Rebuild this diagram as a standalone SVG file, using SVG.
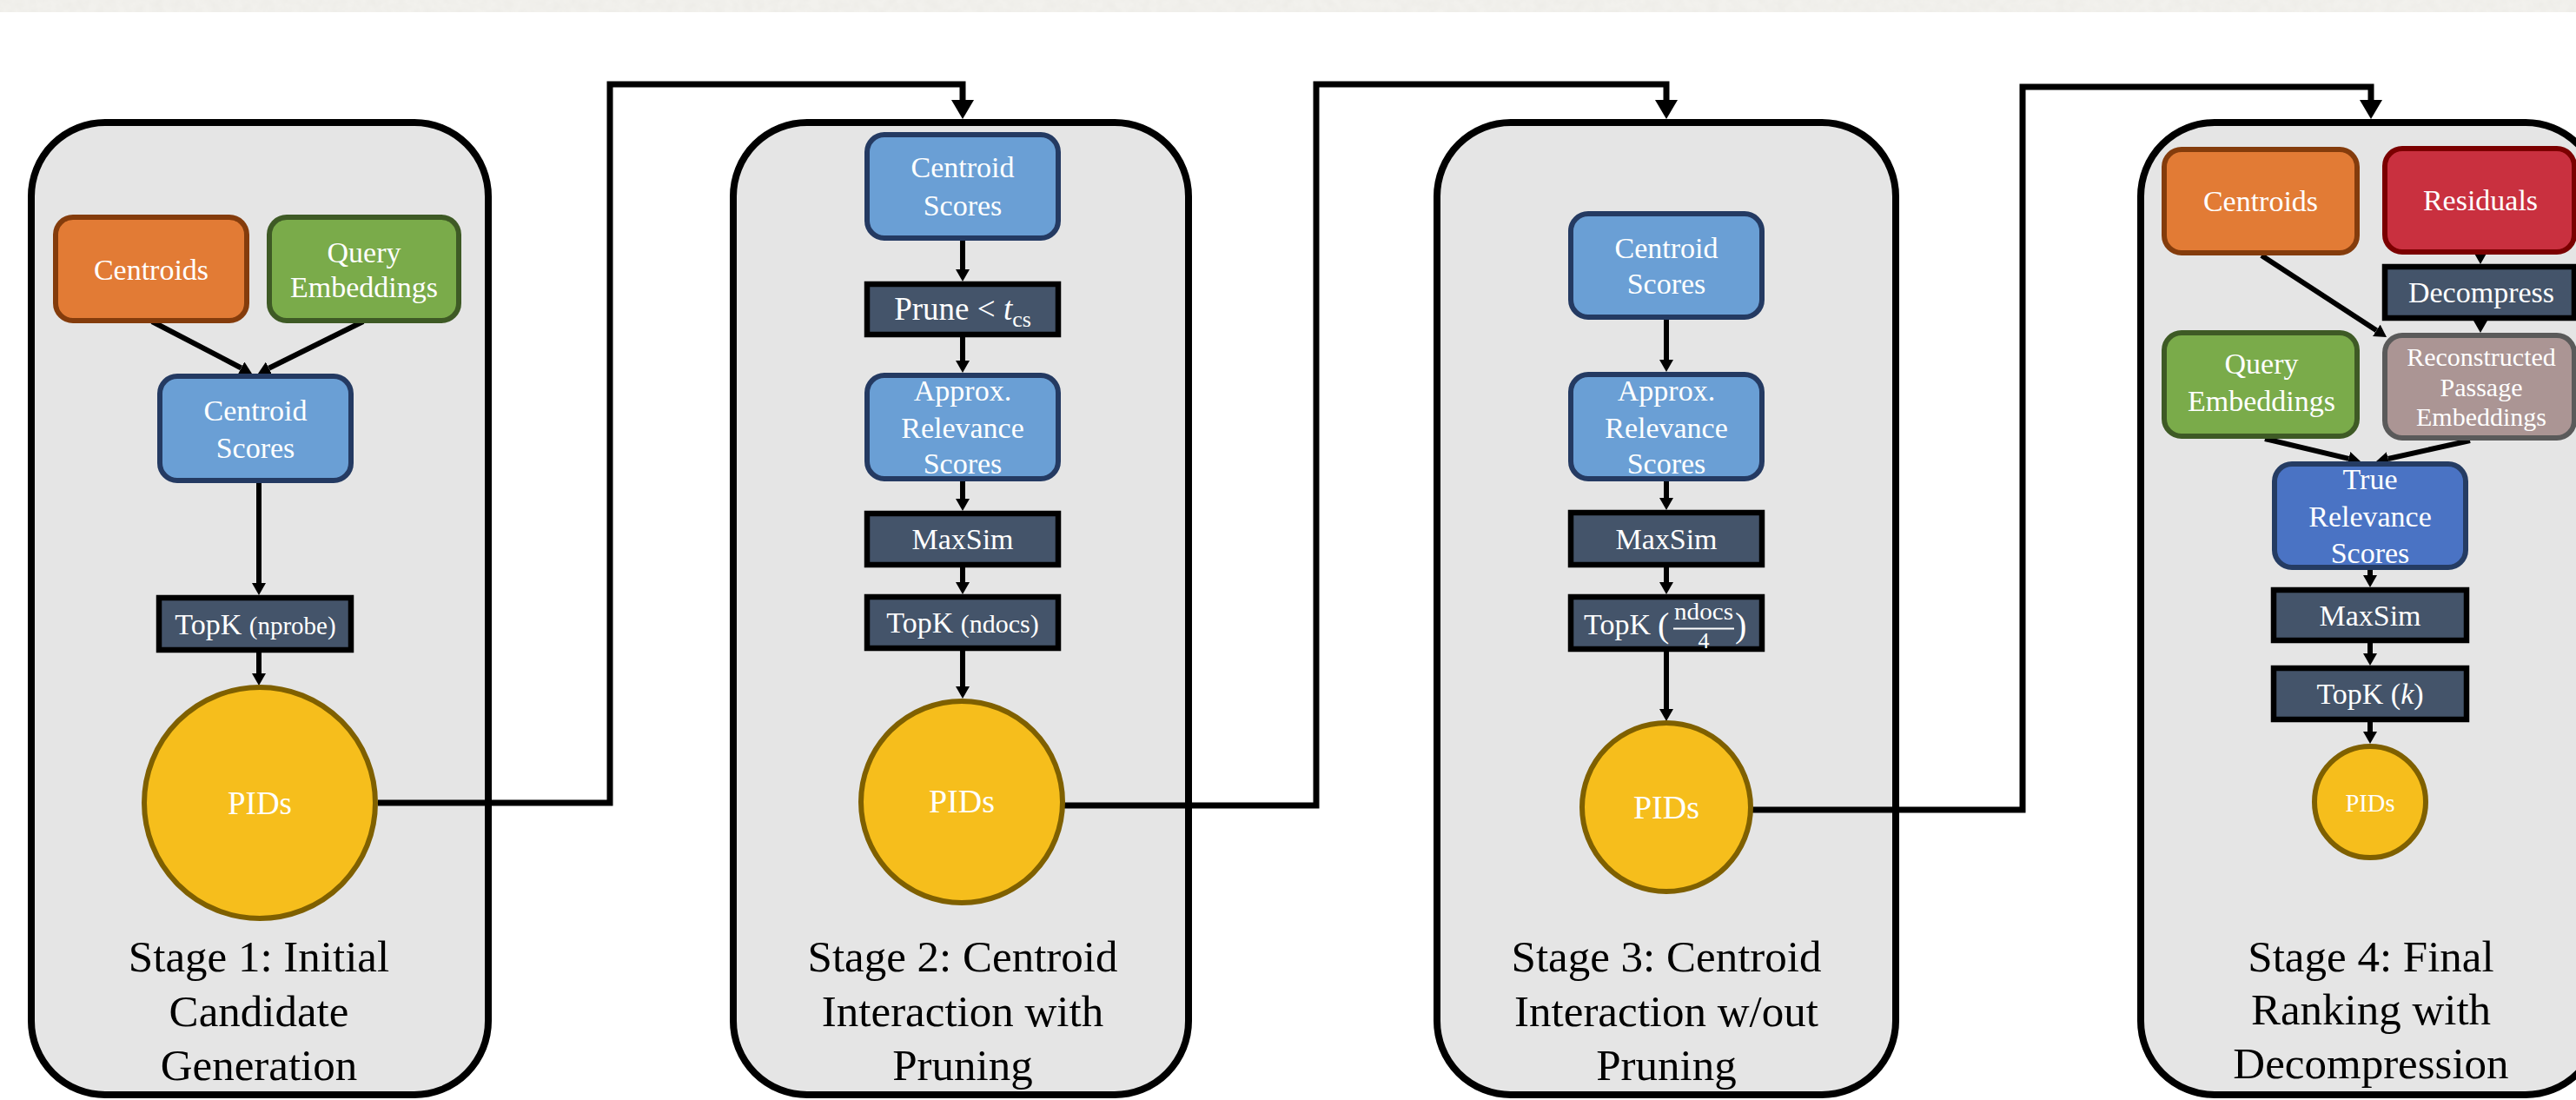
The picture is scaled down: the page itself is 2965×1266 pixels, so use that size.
<svg xmlns="http://www.w3.org/2000/svg" width="2965" height="1266" viewBox="0 0 2965 1266">
  <defs>
    <style>
      text { font-family: "Liberation Serif", "Times New Roman", serif; }
      .panel { fill: #e5e5e5; stroke: #000; stroke-width: 8; }
      .lbl { fill: #fff; font-size: 34px; text-anchor: middle; }
      .title { fill: #000; font-size: 51px; text-anchor: middle; }
      .orange { fill: #e27b35; stroke: #843c0c; stroke-width: 6; }
      .green { fill: #7aab4a; stroke: #3e5a25; stroke-width: 6; }
      .blue { fill: #6a9fd5; stroke: #243a62; stroke-width: 6; }
      .tblue { fill: #4a73c4; stroke: #253c63; stroke-width: 6; }
      .red { fill: #c9303f; stroke: #7b0000; stroke-width: 6; }
      .mauve { fill: #ab9594; stroke: #5a5a5a; stroke-width: 6; }
      .op { fill: #44546a; stroke: #000; stroke-width: 6.5; }
      .pid { fill: #f6be1c; stroke: #7f6000; stroke-width: 6; }
      .flow { fill: none; stroke: #000; stroke-width: 7; stroke-linejoin: miter; marker-end: url(#bighead); }
      .step { fill: none; stroke: #000; stroke-width: 6; marker-end: url(#head); }
    </style>
    <marker id="head" viewBox="0 0 14 16" refX="0" refY="8" markerWidth="14" markerHeight="16" markerUnits="userSpaceOnUse" orient="auto">
      <path d="M0,0 L14,8 L0,16 z" fill="#000"/>
    </marker>
    <marker id="bighead" viewBox="0 0 22 26" refX="0" refY="13" markerWidth="22" markerHeight="26" markerUnits="userSpaceOnUse" orient="auto">
      <path d="M0,0 L22,13 L0,26 z" fill="#000"/>
    </marker>
    <filter id="grain" x="0" y="0" width="100%" height="100%">
      <feTurbulence type="fractalNoise" baseFrequency="0.09" numOctaves="3" seed="7"/>
      <feColorMatrix type="matrix" values="0 0 0 0 0.80  0 0 0 0 0.79  0 0 0 0 0.75  0.7 0 0 0 -0.2"/>
    </filter>
  </defs>

  <!-- page background with a paper-textured strip along the top -->
  <rect x="0" y="0" width="2965" height="1266" fill="#fff"/>
  <rect x="0" y="0" width="2965" height="14" fill="#f2f1ed"/>
  <rect x="0" y="0" width="2965" height="14" filter="url(#grain)"/>

  <!-- stage panels -->
  <g id="stage1">
    <rect class="panel" x="36" y="141" width="526" height="1119" rx="85" ry="85"/>
    <text class="title" x="298" y="1118">Stage 1: Initial</text>
    <text class="title" x="298" y="1181">Candidate</text>
    <text class="title" x="298" y="1243">Generation</text>
  </g>
  <g id="stage2">
    <rect class="panel" x="844" y="141" width="524" height="1119" rx="85" ry="85"/>
    <text class="title" x="1108" y="1118">Stage 2: Centroid</text>
    <text class="title" x="1108" y="1181">Interaction with</text>
    <text class="title" x="1108" y="1243">Pruning</text>
  </g>
  <g id="stage3">
    <rect class="panel" x="1654" y="141" width="528" height="1119" rx="85" ry="85"/>
    <text class="title" x="1918" y="1118">Stage 3: Centroid</text>
    <text class="title" x="1918" y="1181">Interaction w/out</text>
    <text class="title" x="1918" y="1243">Pruning</text>
  </g>
  <g id="stage4">
    <rect class="panel" x="2464" y="141" width="528" height="1119" rx="85" ry="85"/>
    <text class="title" x="2729" y="1118">Stage 4: Final</text>
    <text class="title" x="2729" y="1179">Ranking with</text>
    <text class="title" x="2729" y="1241">Decompression</text>
  </g>

  <!-- connectors -->
  <g id="connectors">
    <path class="flow" d="M435,924 H702 V97 H1108 V115"/>
    <path class="flow" d="M1223,927 H1515 V97 H1918 V115"/>
    <path class="flow" d="M2015,932 H2328 V100 H2729 V115"/>

    <path class="step" d="M175,370 L277.6,423.5"/>
    <path class="step" d="M418,370 L309.5,423.8"/>
    <path class="step" d="M298,556 V671"/>
    <path class="step" d="M298,751 V775"/>

    <path class="step" d="M1108,277 V310"/>
    <path class="step" d="M1108,388 V415"/>
    <path class="step" d="M1108,554 V574"/>
    <path class="step" d="M1108,653 V670"/>
    <path class="step" d="M1108,749 V790"/>

    <path class="step" d="M1918,368 V414"/>
    <path class="step" d="M1918,554 V573"/>
    <path class="step" d="M1918,653 V670"/>
    <path class="step" d="M1918,750 V816"/>

    <path class="step" d="M2855,285 V290"/>
    <path class="step" d="M2855,362 V369"/>
    <path class="step" d="M2603,294 L2735.3,380.3"/>
    <path class="step" d="M2607,505 L2703.4,527.8"/>
    <path class="step" d="M2843,507 L2748.7,528"/>
    <path class="step" d="M2728,650 V662"/>
    <path class="step" d="M2728,736 V752"/>
    <path class="step" d="M2728,826 V842"/>
  </g>

  <!-- stage 1 nodes -->
  <g id="s1-centroids">
    <rect class="orange" x="64" y="250" width="220" height="119" rx="20"/>
    <text class="lbl" x="174" y="322">Centroids</text>
  </g>
  <g id="s1-query">
    <rect class="green" x="310" y="250" width="218" height="119" rx="20"/>
    <text class="lbl" x="419" y="302">Query</text>
    <text class="lbl" x="419" y="342">Embeddings</text>
  </g>
  <g id="s1-centroid-scores">
    <rect class="blue" x="184" y="433" width="220" height="120" rx="20"/>
    <text class="lbl" x="294" y="484">Centroid</text>
    <text class="lbl" x="294" y="527">Scores</text>
  </g>
  <g id="s1-topk">
    <rect class="op" x="183" y="688" width="221" height="60"/>
    <text class="lbl" x="294" y="730">TopK <tspan style="font-size:29px">(nprobe)</tspan></text>
  </g>
  <g id="s1-pids">
    <circle class="pid" cx="299" cy="924" r="133"/>
    <text class="lbl" x="299" y="937" style="font-size:37px">PIDs</text>
  </g>

  <!-- stage 2 nodes -->
  <g id="s2-centroid-scores">
    <rect class="blue" x="998" y="155" width="220" height="119" rx="20"/>
    <text class="lbl" x="1108" y="204">Centroid</text>
    <text class="lbl" x="1108" y="248">Scores</text>
  </g>
  <g id="s2-prune">
    <rect class="op" x="998" y="327" width="220" height="58"/>
    <text class="lbl" x="1108" y="368" style="font-size:37px">Prune &lt; <tspan style="font-style:italic">t</tspan><tspan style="font-size:26px" dy="8">cs</tspan></text>
  </g>
  <g id="s2-approx">
    <rect class="blue" x="998" y="432" width="220" height="119" rx="20"/>
    <text class="lbl" x="1108" y="461">Approx.</text>
    <text class="lbl" x="1108" y="504">Relevance</text>
    <text class="lbl" x="1108" y="545">Scores</text>
  </g>
  <g id="s2-maxsim">
    <rect class="op" x="998" y="591" width="220" height="59"/>
    <text class="lbl" x="1108" y="632">MaxSim</text>
  </g>
  <g id="s2-topk">
    <rect class="op" x="998" y="687" width="220" height="59"/>
    <text class="lbl" x="1108" y="728">TopK <tspan style="font-size:30px">(ndocs)</tspan></text>
  </g>
  <g id="s2-pids">
    <circle class="pid" cx="1107" cy="923" r="116"/>
    <text class="lbl" x="1107" y="935" style="font-size:38px">PIDs</text>
  </g>

  <!-- stage 3 nodes -->
  <g id="s3-centroid-scores">
    <rect class="blue" x="1808" y="246" width="220" height="119" rx="20"/>
    <text class="lbl" x="1918" y="297">Centroid</text>
    <text class="lbl" x="1918" y="338">Scores</text>
  </g>
  <g id="s3-approx">
    <rect class="blue" x="1808" y="431" width="220" height="120" rx="20"/>
    <text class="lbl" x="1918" y="461">Approx.</text>
    <text class="lbl" x="1918" y="504">Relevance</text>
    <text class="lbl" x="1918" y="545">Scores</text>
  </g>
  <g id="s3-maxsim">
    <rect class="op" x="1808" y="590" width="220" height="60"/>
    <text class="lbl" x="1918" y="632">MaxSim</text>
  </g>
  <g id="s3-topk">
    <rect class="op" x="1808" y="687" width="220" height="60"/>
    <text class="lbl" x="1823" y="730" style="text-anchor:start">TopK</text>
    <text class="lbl" x="1908" y="733" style="font-size:40px;text-anchor:start">(</text>
    <text class="lbl" x="1961" y="713" style="font-size:28px" textLength="68" lengthAdjust="spacingAndGlyphs">ndocs</text>
    <line x1="1926" y1="723.5" x2="1996" y2="723.5" stroke="#fff" stroke-width="2"/>
    <text class="lbl" x="1961" y="746" style="font-size:26px">4</text>
    <text class="lbl" x="1997" y="733" style="font-size:40px;text-anchor:start">)</text>
  </g>
  <g id="s3-pids">
    <circle class="pid" cx="1918" cy="929" r="97"/>
    <text class="lbl" x="1918" y="942" style="font-size:38px">PIDs</text>
  </g>

  <!-- stage 4 nodes -->
  <g id="s4-centroids">
    <rect class="orange" x="2491" y="172" width="222" height="119" rx="20"/>
    <text class="lbl" x="2602" y="243">Centroids</text>
  </g>
  <g id="s4-residuals">
    <rect class="red" x="2745" y="171" width="218" height="119" rx="20"/>
    <text class="lbl" x="2855" y="242">Residuals</text>
  </g>
  <g id="s4-decompress">
    <rect class="op" x="2745" y="307" width="218" height="59"/>
    <text class="lbl" x="2856" y="348">Decompress</text>
  </g>
  <g id="s4-query">
    <rect class="green" x="2491" y="383" width="222" height="119" rx="20"/>
    <text class="lbl" x="2603" y="430">Query</text>
    <text class="lbl" x="2603" y="473">Embeddings</text>
  </g>
  <g id="s4-reconstructed">
    <rect class="mauve" x="2745" y="386" width="218" height="118" rx="20"/>
    <text class="lbl" x="2856" y="421" style="font-size:30px">Reconstructed</text>
    <text class="lbl" x="2856" y="456" style="font-size:30px">Passage</text>
    <text class="lbl" x="2856" y="490" style="font-size:30px">Embeddings</text>
  </g>
  <g id="s4-true-scores">
    <rect class="tblue" x="2618" y="534" width="220" height="119" rx="20"/>
    <text class="lbl" x="2728" y="563">True</text>
    <text class="lbl" x="2728" y="606">Relevance</text>
    <text class="lbl" x="2728" y="648">Scores</text>
  </g>
  <g id="s4-maxsim">
    <rect class="op" x="2617" y="679" width="222" height="58"/>
    <text class="lbl" x="2728" y="720">MaxSim</text>
  </g>
  <g id="s4-topk">
    <rect class="op" x="2617" y="769" width="222" height="59"/>
    <text class="lbl" x="2728" y="810">TopK (<tspan style="font-style:italic">k</tspan>)</text>
  </g>
  <g id="s4-pids">
    <circle class="pid" cx="2728" cy="923" r="64"/>
    <text class="lbl" x="2728" y="934" style="font-size:28.5px">PIDs</text>
  </g>
</svg>
